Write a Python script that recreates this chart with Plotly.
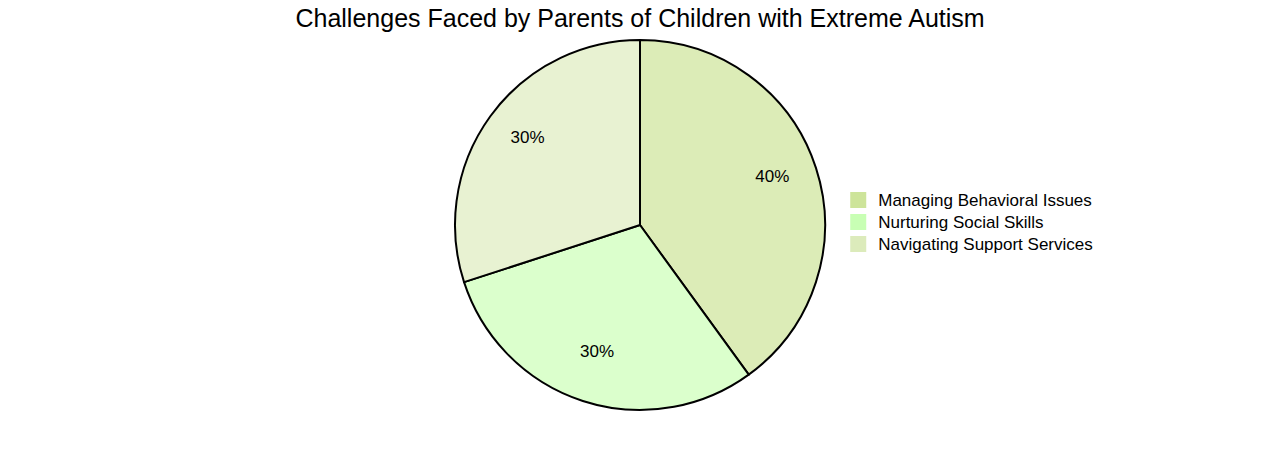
import plotly.graph_objects as go

labels = ["Managing Behavioral Issues", "Nurturing Social Skills", "Navigating Support Services"]
values = [40, 30, 30]
slice_colors = ["#dcecb7", "#dbffcc", "#e8f2d2"]
legend_colors = ["#cde49a", "#c8ffb4", "#dcebbb"]

FONT = "Liberation Sans, Arial, sans-serif"

fig = go.Figure()

# filled slices
fig.add_trace(go.Pie(
    labels=labels,
    values=values,
    sort=False,
    direction="clockwise",
    rotation=0,
    marker=dict(colors=slice_colors, line=dict(color="black", width=2)),
    textinfo="none",
    showlegend=False,
    hoverinfo="label+percent",
))

# percentage labels placed in the outer ring
fig.add_trace(go.Pie(
    labels=labels,
    values=values,
    sort=False,
    direction="clockwise",
    rotation=0,
    hole=0.553,
    domain=dict(x=[0, 1], y=[0.032, 1]),
    marker=dict(colors=["rgba(0,0,0,0)"] * len(labels), line=dict(width=0)),
    textinfo="percent",
    textposition="inside",
    insidetextorientation="horizontal",
    textfont=dict(family=FONT, size=17, color="black"),
    showlegend=False,
    hoverinfo="skip",
))

# legend swatches
for name, col in zip(labels, legend_colors):
    fig.add_trace(go.Scatter(
        x=[None], y=[None], mode="markers",
        name='<span style="font-size:17px">' + name + '</span>',
        marker=dict(symbol="square", size=19, color=col, line=dict(width=0)),
    ))

fig.update_layout(
    width=1280, height=450,
    title=dict(text="Challenges Faced by Parents of Children with Extreme Autism",
               x=0.4938, xanchor="center", y=0.978, yanchor="middle",
               font=dict(family=FONT, size=25, color="black")),
    font=dict(family=FONT, size=17, color="black"),
    margin=dict(l=72, r=88, t=32, b=48),
    xaxis=dict(visible=False),
    yaxis=dict(visible=False),
    legend=dict(x=0.677, y=0.508, xanchor="left", yanchor="middle",
                font=dict(family=FONT, size=14.6, color="black"),
                bgcolor="rgba(0,0,0,0)", tracegroupgap=0),
    paper_bgcolor="white",
    plot_bgcolor="white",
)

fig.write_html("out.html")
